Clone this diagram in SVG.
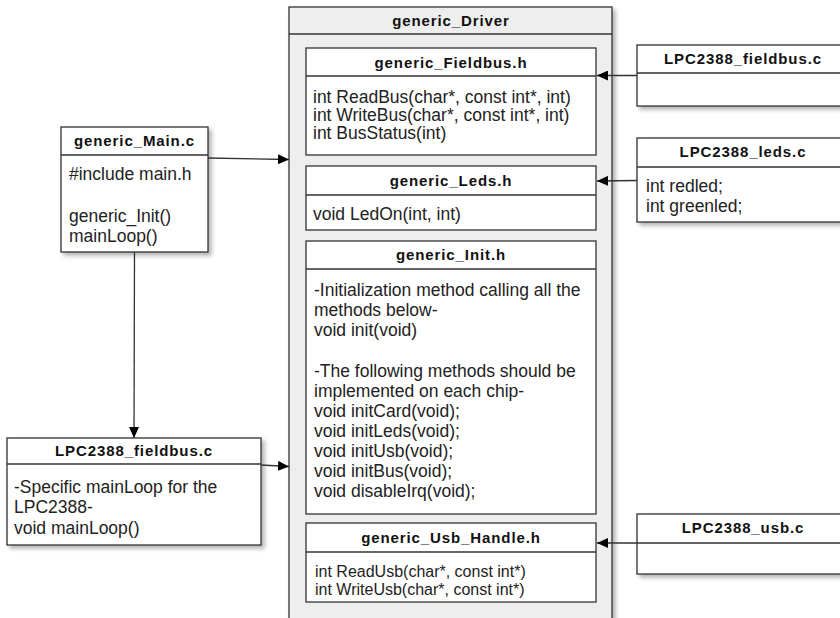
<svg xmlns="http://www.w3.org/2000/svg" width="840" height="618" viewBox="0 0 840 618">
<defs>
<filter id="sh" x="-10%" y="-10%" width="130%" height="130%">
<feDropShadow dx="3" dy="3" stdDeviation="2" flood-color="#000" flood-opacity="0.3"/>
</filter>
<marker id="ah" markerWidth="12" markerHeight="10" refX="11" refY="5" orient="auto" markerUnits="userSpaceOnUse">
<path d="M0,0 L11,5 L0,10 Z" fill="#000"/>
</marker>
<style>
.box{fill:#fff;stroke:#333;stroke-width:1.3}
.drv{fill:#eeeeee;stroke:#333;stroke-width:1.3}
.sep{stroke:#333;stroke-width:1.3}
.hd{font-family:"Liberation Sans",Arial,sans-serif;font-weight:bold;font-size:15px;letter-spacing:0.9px;fill:#111;text-anchor:middle}
.tx{font-family:"Liberation Sans",Arial,sans-serif;font-size:17.5px;fill:#222}
.tsm{font-family:"Liberation Sans",Arial,sans-serif;font-size:16px;fill:#222}
.cn{stroke:#333;stroke-width:1.3;fill:none;marker-end:url(#ah)}
</style>
</defs>
<rect width="840" height="618" fill="#fff"/>

<g id="generic_Driver">
<rect class="drv" x="289" y="7" width="323" height="625" filter="url(#sh)"/>
<line class="sep" x1="289" y1="34" x2="612" y2="34"/>
<text class="hd" x="451" y="26">generic_Driver</text>
</g>

<g id="generic_Fieldbus_h">
<rect class="box" x="306" y="48" width="290" height="107"/>
<line class="sep" x1="306" y1="76" x2="596" y2="76"/>
<text class="hd" x="451" y="68">generic_Fieldbus.h</text>
<text class="tx" x="313" y="103">int ReadBus(char*, const int*, int)</text>
<text class="tx" x="313" y="121">int WriteBus(char*, const int*, int)</text>
<text class="tx" x="313" y="139">int BusStatus(int)</text>
</g>

<g id="generic_Leds_h">
<rect class="box" x="306" y="166" width="290" height="64"/>
<line class="sep" x1="306" y1="195" x2="596" y2="195"/>
<text class="hd" x="451" y="186">generic_Leds.h</text>
<text class="tx" x="313" y="220">void LedOn(int, int)</text>
</g>

<g id="generic_Init_h">
<rect class="box" x="306" y="241" width="290" height="273"/>
<line class="sep" x1="306" y1="269" x2="596" y2="269"/>
<text class="hd" x="451" y="260">generic_Init.h</text>
<text class="tx" x="314" y="296">-Initialization method calling all the</text>
<text class="tx" x="314" y="316">methods below-</text>
<text class="tx" x="314" y="336">void init(void)</text>
<text class="tx" x="314" y="377">-The following methods should be</text>
<text class="tx" x="314" y="397">implemented on each chip-</text>
<text class="tx" x="314" y="417">void initCard(void);</text>
<text class="tx" x="314" y="437">void initLeds(void);</text>
<text class="tx" x="314" y="457">void initUsb(void);</text>
<text class="tx" x="314" y="477">void initBus(void);</text>
<text class="tx" x="314" y="497">void disableIrq(void);</text>
</g>

<g id="generic_Usb_Handle_h">
<rect class="box" x="306" y="523" width="290" height="79"/>
<line class="sep" x1="306" y1="552" x2="596" y2="552"/>
<text class="hd" x="451" y="543">generic_Usb_Handle.h</text>
<text class="tsm" x="315" y="577">int ReadUsb(char*, const int*)</text>
<text class="tsm" x="315" y="595">int WriteUsb(char*, const int*)</text>
</g>

<g id="generic_Main_c">
<rect class="box" x="61" y="127" width="147" height="125" filter="url(#sh)"/>
<line class="sep" x1="61" y1="155" x2="208" y2="155"/>
<text class="hd" x="134.5" y="146">generic_Main.c</text>
<text class="tx" x="69" y="180">#include main.h</text>
<text class="tx" x="69" y="222">generic_Init()</text>
<text class="tx" x="69" y="242">mainLoop()</text>
</g>

<g id="LPC2388_fieldbus_c_left">
<rect class="box" x="7" y="438" width="254" height="107" filter="url(#sh)"/>
<line class="sep" x1="7" y1="464" x2="261" y2="464"/>
<text class="hd" x="134" y="456">LPC2388_fieldbus.c</text>
<text class="tx" x="14" y="493">-Specific mainLoop for the</text>
<text class="tx" x="14" y="513">LPC2388-</text>
<text class="tx" x="14" y="534">void mainLoop()</text>
</g>

<g id="LPC2388_fieldbus_c_right">
<rect class="box" x="637" y="45" width="212" height="61" filter="url(#sh)"/>
<line class="sep" x1="637" y1="73" x2="849" y2="73"/>
<text class="hd" x="743" y="64">LPC2388_fieldbus.c</text>
</g>

<g id="LPC2388_leds_c">
<rect class="box" x="637" y="138" width="212" height="84" filter="url(#sh)"/>
<line class="sep" x1="637" y1="167" x2="849" y2="167"/>
<text class="hd" x="743" y="157">LPC2388_leds.c</text>
<text class="tx" x="646" y="192">int redled;</text>
<text class="tx" x="646" y="212">int greenled;</text>
</g>

<g id="LPC2388_usb_c">
<rect class="box" x="637" y="514" width="212" height="60" filter="url(#sh)"/>
<line class="sep" x1="637" y1="543" x2="849" y2="543"/>
<text class="hd" x="743" y="533">LPC2388_usb.c</text>
</g>

<g id="connectors">
<path class="cn" d="M637,75.5 L597,75.5"/>
<path class="cn" d="M637,180.5 L597,181"/>
<path class="cn" d="M637,543 L597,543"/>
<path class="cn" d="M208,158 L289,159.5"/>
<path class="cn" d="M134.5,252 L134,438"/>
<path class="cn" d="M261,465 L289,466.5"/>
</g>
</svg>
